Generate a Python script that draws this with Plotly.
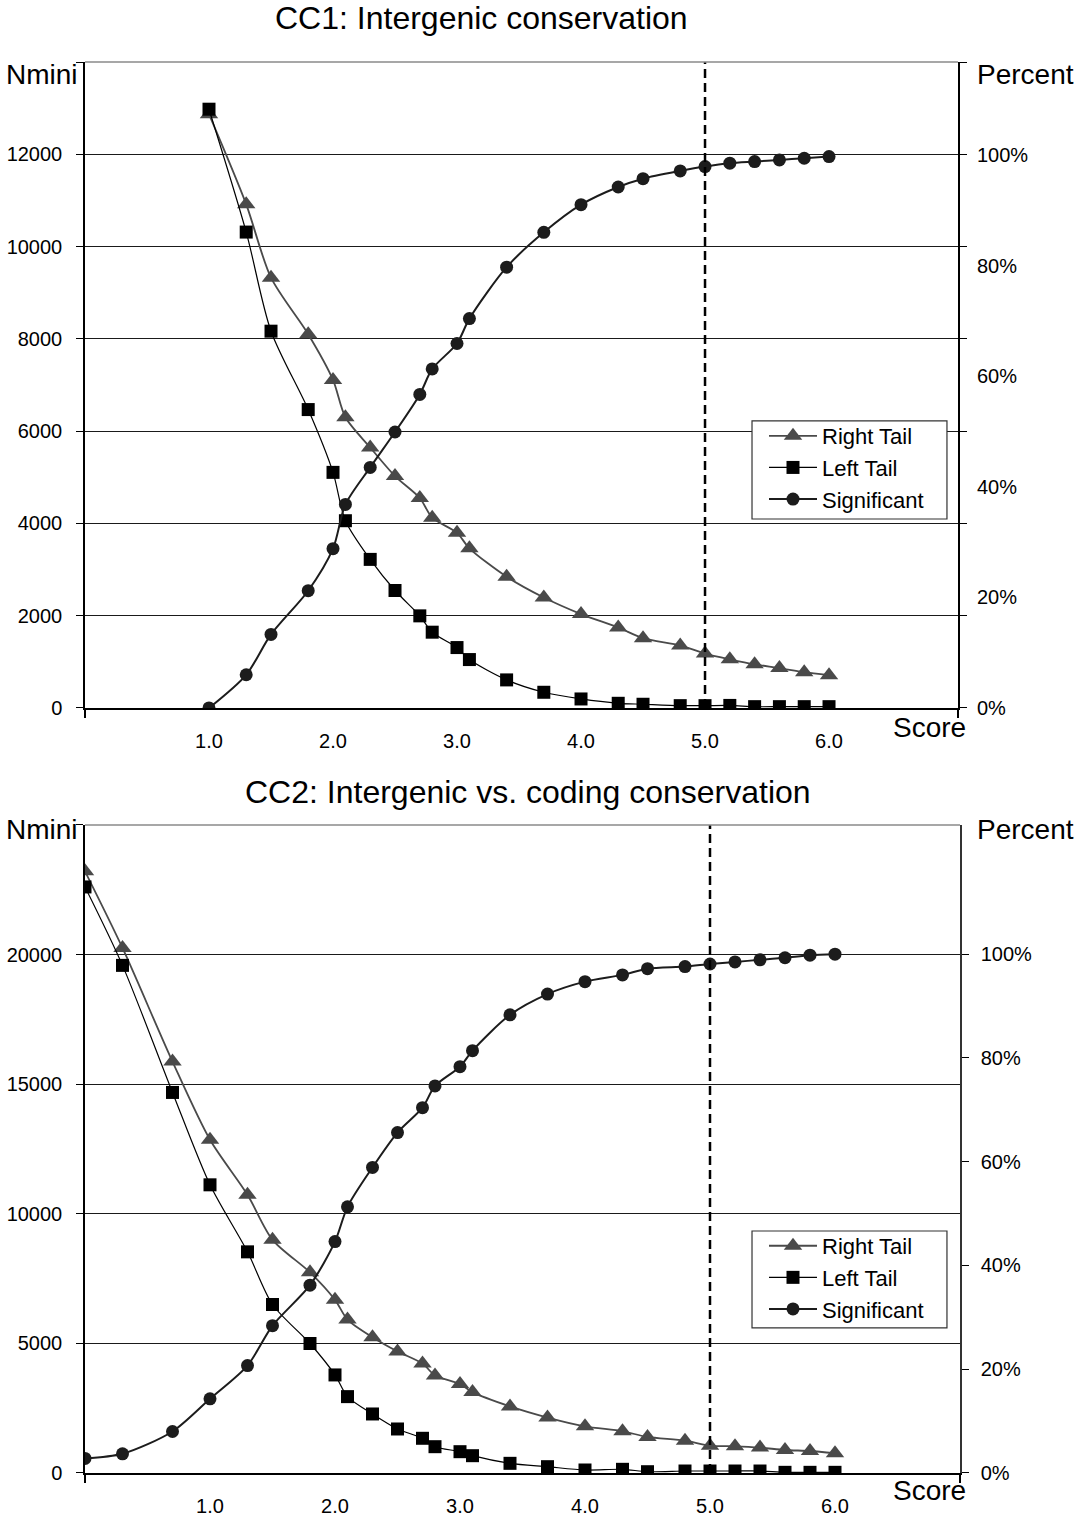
import plotly.graph_objects as go

# ---------------- data ----------------
score_top = [1.0, 1.3, 1.5, 1.8, 2.0, 2.1, 2.3, 2.5, 2.7, 2.8, 3.0, 3.1, 3.4, 3.7,
             4.0, 4.3, 4.5, 4.8, 5.0, 5.2, 5.4, 5.6, 5.8, 6.0]
right_tail_top = [12870, 10915, 9325, 8100, 7110, 6300, 5645, 5025, 4550, 4125, 3795, 3460,
                  2845, 2394, 2035, 1743, 1512, 1355, 1180, 1055, 945, 865, 775, 710]
left_tail_top = [12977, 10314, 8166, 6467, 5106, 4058, 3220, 2546, 1996, 1642, 1309, 1049,
                 608, 340, 195, 101, 80, 50, 50, 55, 28, 28, 28, 28]
significant_top = [0, 6.0, 13.3, 21.2, 28.8, 36.8, 43.5, 49.9, 56.7, 61.3, 65.9, 70.4,
                   79.7, 86.0, 91.0, 94.2, 95.7, 97.1, 97.9, 98.5, 98.8, 99.1, 99.4, 99.7]

score_bot = [0.0, 0.3, 0.7, 1.0, 1.3, 1.5, 1.8, 2.0, 2.1, 2.3, 2.5, 2.7, 2.8, 3.0, 3.1,
             3.4, 3.7, 4.0, 4.3, 4.5, 4.8, 5.0, 5.2, 5.4, 5.6, 5.8, 6.0]
right_tail_bot = [23210, 20253, 15870, 12854, 10731, 8994, 7740, 6680, 5920, 5240, 4690,
                  4220, 3765, 3435, 3120, 2570, 2140, 1800, 1610, 1390, 1245, 1050, 1030,
                  980, 888, 849, 765]
left_tail_bot = [22608, 19582, 14680, 11117, 8531, 6500, 4995, 3783, 2946, 2277, 1698,
                 1339, 1015, 822, 668, 373, 244, 116, 142, 50, 77, 77, 77, 77, 26, 26, 26]
significant_bot = [2.8, 3.7, 8.0, 14.3, 20.7, 28.4, 36.2, 44.6, 51.3, 58.9, 65.6, 70.4,
                   74.6, 78.3, 81.4, 88.3, 92.3, 94.7, 96.0, 97.2, 97.6, 98.1, 98.5, 98.9,
                   99.3, 99.8, 100.0]

x_ticks = [1, 2, 3, 4, 5, 6]
x_ticktext = ["1.0", "2.0", "3.0", "4.0", "5.0", "6.0"]
pct_ticks = [0, 20, 40, 60, 80, 100]
pct_ticktext = ["0%", "20%", "40%", "60%", "80%", "100%"]
top_yticks = [0, 2000, 4000, 6000, 8000, 10000, 12000, 14000]
top_yticktext = ["0", "2000", "4000", "6000", "8000", "10000", "12000", ""]
bot_yticks = [0, 5000, 10000, 15000, 20000, 25000]
bot_yticktext = ["0", "5000", "10000", "15000", "20000", ""]
threshold = 5.0

titles = ["CC1: Intergenic conservation", "CC2: Intergenic vs. coding conservation"]
series_names = ["Right Tail", "Left Tail", "Significant"]

# ---------------- style ----------------
FONT = "Liberation Sans, Arial, Helvetica, sans-serif"
TRI_COL = "#4a4a4a"
SQ_COL = "#000000"
CIR_COL = "#1c1c1c"
GRID = "#1a1a1a"

fig = go.Figure()

def add_series(xs, rt, lt, sig, xa, ya, ya2, legend):
    fig.add_trace(go.Scatter(
        x=xs, y=rt, name=series_names[0], mode="lines+markers", xaxis=xa, yaxis=ya,
        line=dict(color=TRI_COL, width=1.8, shape="spline", smoothing=0.8),
        marker=dict(symbol="triangle-up", size=16, color=TRI_COL), legend=legend))
    fig.add_trace(go.Scatter(
        x=xs, y=lt, name=series_names[1], mode="lines+markers", xaxis=xa, yaxis=ya,
        line=dict(color=SQ_COL, width=1.2, shape="spline", smoothing=0.8),
        marker=dict(symbol="square", size=13, color=SQ_COL), legend=legend))
    fig.add_trace(go.Scatter(
        x=xs, y=sig, name=series_names[2], mode="lines+markers", xaxis=xa, yaxis=ya2,
        line=dict(color=CIR_COL, width=2, shape="spline", smoothing=0.8),
        marker=dict(symbol="circle", size=13, color=CIR_COL), legend=legend))

add_series(score_top, right_tail_top, left_tail_top, significant_top, "x", "y", "y2", "legend")
add_series(score_bot, right_tail_bot, left_tail_bot, significant_bot, "x2", "y3", "y4", "legend2")

# threshold dashed lines
for xa, ya in (("x", "y"), ("x2", "y3")):
    fig.add_shape(type="line", xref=xa, yref=ya + " domain", x0=threshold, x1=threshold,
                  y0=0, y1=1, line=dict(color="black", width=2.5, dash="9px,5px"))
# top borders (gray)
for xa, ya in (("x", "y"), ("x2", "y3")):
    fig.add_shape(type="line", xref=xa + " domain", yref=ya + " domain", x0=0, x1=1,
                  y0=1, y1=1, line=dict(color="#8a8a8a", width=1.5))
# legend boxes
for (y0, y1) in ((0.6761, 0.7456), (0.1028, 0.1715)):
    fig.add_shape(type="rect", xref="paper", yref="paper", x0=0.7623, x1=0.9851,
                  y0=y0, y1=y1, layer="above", fillcolor="white",
                  line=dict(color="#333333", width=1.2))

TOP_DOM = [0.5422, 1.0]
BOT_DOM = [0.0, 0.4593]

xbase = dict(tickvals=x_ticks, ticktext=x_ticktext, ticks="", showgrid=False,
             zeroline=False, showline=True, linecolor="black", linewidth=1.5,
             tickfont=dict(size=20, color="black"), ticklabelstandoff=14, automargin=False)

legend_style = dict(xanchor="left", yanchor="top", bgcolor="rgba(0,0,0,0)",
                    borderwidth=0, font=dict(size=22, family=FONT), itemwidth=48,
                    tracegroupgap=0)

fig.update_layout(
    width=1090, height=1518,
    margin=dict(l=85, r=130, t=62, b=45, autoexpand=False),
    paper_bgcolor="white", plot_bgcolor="white",
    font=dict(family=FONT, color="black"),
    showlegend=True,
    xaxis=dict(domain=[0, 0.9977], anchor="y", range=[0, 7.04], **xbase,
               minor=dict(ticks="outside", ticklen=8, tickcolor="black", tickwidth=1.5,
                          tickvals=[0, 7.04])),
    xaxis2=dict(domain=[0, 1], anchor="y3", range=[0, 7], **xbase,
                minor=dict(ticks="outside", ticklen=8, tickcolor="black", tickwidth=1.5,
                           tickvals=[0, 7])),
    yaxis=dict(domain=TOP_DOM, anchor="x", range=[0, 14000],
               tickvals=top_yticks, ticktext=top_yticktext,
               showgrid=True, gridcolor=GRID, gridwidth=1, zeroline=False,
               showline=True, linecolor="black", linewidth=1.5, mirror="ticks",
               ticks="outside", ticklen=7, tickcolor="black", automargin=False,
               tickfont=dict(size=20), ticklabelstandoff=10),
    yaxis2=dict(overlaying="y", side="right", anchor="x", range=[0, 116.8],
                tickvals=pct_ticks, ticktext=pct_ticktext, automargin=False,
                showgrid=False, zeroline=False, showline=False, ticks="",
                tickfont=dict(size=20), ticklabelstandoff=18),
    yaxis3=dict(domain=BOT_DOM, anchor="x2", range=[0, 25000],
                tickvals=bot_yticks, ticktext=bot_yticktext,
                showgrid=True, gridcolor=GRID, gridwidth=1, zeroline=False,
                showline=True, linecolor="black", linewidth=1.5, automargin=False,
                ticks="outside", ticklen=7, tickcolor="black",
                tickfont=dict(size=20), ticklabelstandoff=10),
    yaxis4=dict(overlaying="y3", side="right", anchor="x2", range=[0, 124.9],
                tickvals=pct_ticks, ticktext=pct_ticktext, automargin=False,
                showgrid=False, zeroline=False, showline=True, linecolor="#333333",
                linewidth=1.5, ticks="outside", ticklen=7, tickcolor="black",
                tickfont=dict(size=20), ticklabelstandoff=8),
    legend=dict(x=0.776, y=0.7498, **legend_style),
    legend2=dict(x=0.776, y=0.1758, **legend_style),
)

ann = []
ann.append(dict(text=titles[0], x=0.4537, y=1.0312, xref="paper", yref="paper",
                showarrow=False, font=dict(size=32), xanchor="center", yanchor="middle"))
ann.append(dict(text=titles[1], x=0.5063, y=0.4826, xref="paper", yref="paper",
                showarrow=False, font=dict(size=32), xanchor="center", yanchor="middle"))
for yv in (0.9908, 0.4564):
    ann.append(dict(text="Nmini", x=-0.0491, y=yv, xref="paper", yref="paper",
                    showarrow=False, font=dict(size=28), xanchor="center", yanchor="middle"))
    ann.append(dict(text="Percent", x=1.0743, y=yv, xref="paper", yref="paper",
                    showarrow=False, font=dict(size=28), xanchor="center", yanchor="middle"))
for yv in (0.5287, -0.0121):
    ann.append(dict(text="Score", x=0.9657, y=yv, xref="paper", yref="paper",
                    showarrow=False, font=dict(size=28), xanchor="center", yanchor="middle"))
fig.update_layout(annotations=ann)

fig.write_html("out.html", config={"displayModeBar": False},
               post_script="document.body.style.margin='0px';document.body.style.padding='0px';")
